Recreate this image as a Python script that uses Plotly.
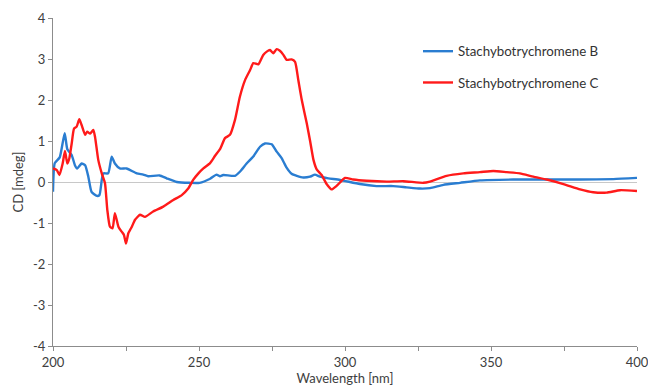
import plotly.graph_objects as go

# Stachybotrychromene B
wl_b = [200, 200.6, 202.3, 204, 204.9, 206.4, 207.5, 208.3, 209.8, 211, 212.1, 213.2, 215, 215.9,
        216.7, 217.2, 218.9, 220.1, 221.2, 222.9, 225.2, 228.7, 230.9, 232.6, 236.5, 238.9, 242.4,
        246.8, 250.2, 253.8, 256, 257.2, 258.3, 262.3, 264, 266.3, 268.6, 270.9, 272.6, 274.9,
        276.6, 278.3, 280, 281.7, 283.5, 285.7, 288, 289.7, 291.4, 294.3, 298.3, 305.1, 310.8,
        316.5, 321.1, 325.7, 329.1, 333.7, 339.4, 346.2, 357.6, 369, 380.5, 391.9, 400]
cd_b = [-0.24, 0.46, 0.6, 1.19, 0.8, 0.66, 0.41, 0.33, 0.45, 0.41, 0.13, -0.24, -0.34, -0.32,
        0.05, 0.21, 0.21, 0.62, 0.45, 0.33, 0.33, 0.21, 0.18, 0.14, 0.16, 0.09, 0.0,
        -0.02, -0.02, 0.08, 0.18, 0.14, 0.17, 0.15, 0.25, 0.45, 0.62, 0.86, 0.94, 0.92,
        0.74, 0.58, 0.35, 0.2, 0.15, 0.11, 0.13, 0.18, 0.13, 0.09, 0.05, -0.05, -0.1,
        -0.1, -0.13, -0.16, -0.15, -0.07, -0.02, 0.04, 0.06, 0.06, 0.06, 0.07, 0.1]

# Stachybotrychromene C
wl_c = [200, 201.3, 202.2, 203.3, 204.1, 204.9, 205.6, 206.4, 207.2, 208.1, 209, 209.8, 211,
        211.7, 212.7, 213.8, 214.4, 215.5, 216.7, 217.8, 218.6, 219.5, 220.4, 221.2, 222.4,
        223.5, 224.3, 225, 225.8, 227, 228.1, 229.8, 231.5, 234.3, 237.8, 241.2, 244.1, 246.3,
        248, 249.8, 251.5, 253.8, 255.5, 257.2, 258.9, 260.6, 262.3, 264, 265.8, 267.5, 268.6,
        270.3, 272, 273.2, 274.3, 275.4, 276.6, 277.7, 278.9, 280, 281.7, 282.9, 284, 285.2,
        286.9, 288, 289.2, 290.3, 292, 293.7, 295.4, 297.2, 300, 302.8, 307.4, 314.3, 320,
        326.8, 329.1, 334.8, 340.5, 346.2, 350.8, 355.4, 359.9, 364.5, 369.1, 374.8, 380.5,
        385, 389.6, 394.2, 400]
cd_c = [0.33, 0.29, 0.17, 0.45, 0.76, 0.45, 0.58, 0.94, 1.3, 1.35, 1.53, 1.39, 1.15,
        1.23, 1.18, 1.27, 1.1, 0.54, 0.21, -0.03, -0.68, -1.09, -1.13, -0.76, -1.09,
        -1.21, -1.29, -1.5, -1.25, -1.09, -0.92, -0.8, -0.85, -0.72, -0.6, -0.44, -0.32, -0.16,
        0.05, 0.21, 0.33, 0.46, 0.64, 0.8, 1.07, 1.15, 1.51, 2.08, 2.49, 2.73, 2.9,
        2.87, 3.1, 3.18, 3.22, 3.14, 3.24, 3.2, 3.1, 2.98, 2.99, 2.93, 2.49, 2.0,
        1.43, 1.02, 0.54, 0.31, 0.17, -0.05, -0.18, -0.09, 0.1, 0.06, 0.03, 0.01, 0.02,
        -0.02, 0.01, 0.15, 0.21, 0.24, 0.27, 0.24, 0.21, 0.13, 0.06, -0.05, -0.18,
        -0.25, -0.26, -0.2, -0.22]

names = ["Stachybotrychromene B", "Stachybotrychromene C"]
x_ticks = [200, 250, 300, 350, 400]
y_ticks = [-4, -3, -2, -1, 0, 1, 2, 3, 4]
y_labels = ["-4", "-3", "-2", "-1", "0", "1", "2", "3", "4"]

assert len(wl_b) == len(cd_b) and len(wl_c) == len(cd_c)

font_family = "Lato, 'Open Sans', sans-serif"
axis_color = "#8c8c8c"
text_color = "#404040"

fig = go.Figure()
fig.add_trace(go.Scatter(x=wl_b, y=cd_b, mode="lines", name=names[0], legendgroup="b",
                         line=dict(color="#2a7dd1", width=2.4, shape="spline", smoothing=0.5)))
fig.add_trace(go.Scatter(x=wl_c, y=cd_c, mode="lines", name=names[1], legendgroup="c",
                         line=dict(color="#ff1a1a", width=2.4, shape="spline", smoothing=0.5)))

fig.update_layout(
    width=648, height=388,
    margin=dict(l=53, r=11, t=18, b=42, autoexpand=False),
    paper_bgcolor="white", plot_bgcolor="white",
    font=dict(family=font_family, size=13, color=text_color),
    showlegend=True,
    legend=dict(x=0.625, y=0.945, xanchor="left", yanchor="top",
                font=dict(size=13.3, color="#333333"), tracegroupgap=11,
                bgcolor="rgba(0,0,0,0)"),
    xaxis=dict(range=[200, 400], tickvals=x_ticks, ticks="outside", ticklen=4,
               tickcolor=axis_color, showline=True, linecolor=axis_color, linewidth=1,
               showgrid=False, zeroline=False, automargin=False,
               ticklabeloverflow="allow",
               minor=dict(dtick=25, tick0=200, ticks="outside", ticklen=4, tickcolor=axis_color),
               title=dict(text="Wavelength [nm]", standoff=0, font=dict(size=13)),
               tickfont=dict(size=13)),
    yaxis=dict(range=[-4, 4], tickvals=y_ticks, ticktext=y_labels, ticks="outside", ticklen=4,
               tickcolor=axis_color, showline=True, linecolor=axis_color, linewidth=1,
               showgrid=False, zeroline=True, zerolinecolor="#c8c8c8", zerolinewidth=1,
               automargin=False,
               title=dict(text="CD [mdeg]", standoff=6, font=dict(size=13)),
               tickfont=dict(size=13)),
)

fig.write_html("out.html", config={"displayModeBar": False},
               post_script="document.body.style.margin='0';")
